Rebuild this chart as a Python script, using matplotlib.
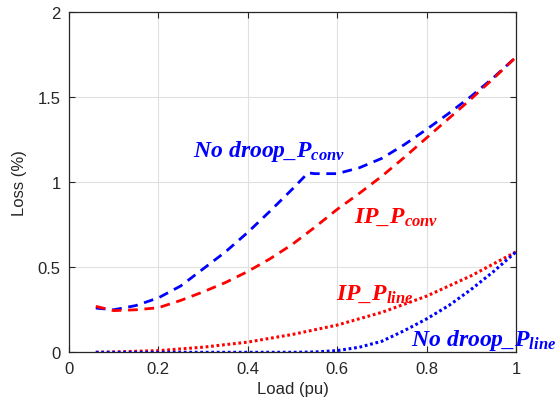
"""
Converter and line losses vs. load for the no-droop and IP control cases.
"""
import matplotlib
matplotlib.use("Agg")
import matplotlib.pyplot as plt

# Converter losses (%)
nd_conv_load = [0.06, 0.1, 0.15, 0.2, 0.25, 0.3, 0.35, 0.4, 0.45, 0.5, 0.535, 0.55,
                0.6, 0.65, 0.7, 0.75, 0.8, 0.85, 0.9, 0.95, 1.0]
nd_conv_loss = [0.26, 0.25, 0.275, 0.32, 0.39, 0.49, 0.59, 0.705, 0.83, 0.96, 1.055, 1.05,
                1.05, 1.085, 1.14, 1.22, 1.31, 1.405, 1.505, 1.615, 1.735]

ip_conv_load = [0.06, 0.1, 0.15, 0.2, 0.25, 0.3, 0.35, 0.4, 0.45, 0.5, 0.55, 0.6,
                0.65, 0.7, 0.75, 0.8, 0.85, 0.9, 0.95, 1.0]
ip_conv_loss = [0.27, 0.245, 0.25, 0.262, 0.305, 0.355, 0.41, 0.475, 0.55, 0.635, 0.735, 0.84,
                0.935, 1.035, 1.145, 1.26, 1.375, 1.49, 1.61, 1.735]

# Line losses (%)
ip_line_load = [0.06, 0.1, 0.2, 0.3, 0.4, 0.5, 0.6, 0.7, 0.8, 0.9, 1.0]
ip_line_loss = [0.0, 0.002, 0.01, 0.03, 0.06, 0.105, 0.16, 0.235, 0.33, 0.45, 0.59]

nd_line_load = [0.06, 0.2, 0.3, 0.4, 0.5, 0.55, 0.6, 0.65, 0.7, 0.75, 0.8, 0.85, 0.9, 0.95, 1.0]
nd_line_loss = [0.0, 0.0, 0.0, 0.0, 0.0, 0.002, 0.01, 0.03, 0.065, 0.127, 0.196, 0.275, 0.37, 0.475, 0.59]

# Curve annotations: (text, x, y, colour)
labels = [
    (r"$No\ droop\_P_{conv}$", 0.278, 1.155, "blue"),
    (r"$IP\_P_{conv}$", 0.637, 0.765, "red"),
    (r"$IP\_P_{line}$", 0.598, 0.318, "red"),
    (r"$No\ droop\_P_{line}$", 0.766, 0.045, "blue"),
]

plt.rcParams["font.family"] = ["Liberation Sans", "DejaVu Sans"]
plt.rcParams["mathtext.fontset"] = "custom"
plt.rcParams["mathtext.it"] = "Liberation Serif:italic:bold"
plt.rcParams["mathtext.rm"] = "Liberation Serif:italic:bold"
plt.rcParams["mathtext.bf"] = "Liberation Serif:italic:bold"

fig = plt.figure(figsize=(5.59, 4.14), dpi=100)
ax = fig.add_axes([0.1234, 0.1466, 0.7995, 0.8219])

ax.plot(nd_conv_load, nd_conv_loss, color="blue", lw=2, dashes=(3.5, 2.4))
ax.plot(ip_conv_load, ip_conv_loss, color="red", lw=2, dashes=(3.5, 2.4))
ax.plot(ip_line_load, ip_line_loss, color="red", lw=2.2, dashes=(0.9, 0.9))
ax.plot(nd_line_load, nd_line_loss, color="blue", lw=2.2, dashes=(0.9, 0.9))

for text, x, y, color in labels:
    ax.text(x, y, text, color=color, fontsize=17, ha="left", va="baseline")

ax.set_xlim(0, 1)
ax.set_ylim(0, 2)
ax.set_xticks([0, 0.2, 0.4, 0.6, 0.8, 1])
ax.set_xticklabels(["0", "0.2", "0.4", "0.6", "0.8", "1"])
ax.set_yticks([0, 0.5, 1, 1.5, 2])
ax.set_yticklabels(["0", "0.5", "1", "1.5", "2"])
ax.grid(True, color="#e0e0e0", lw=0.8)
ax.set_axisbelow(True)
ax.tick_params(direction="in", top=True, right=True, length=4, width=0.8,
               labelsize=12, colors="#262626", pad=6)
for spine in ax.spines.values():
    spine.set_color("#262626")
    spine.set_linewidth(0.9)

ax.set_xlabel("Load (pu)", fontsize=12, color="#262626", labelpad=4)
ax.set_ylabel("Loss (%)", fontsize=12, color="#262626", labelpad=8)

fig.savefig("out.png", dpi=100)
